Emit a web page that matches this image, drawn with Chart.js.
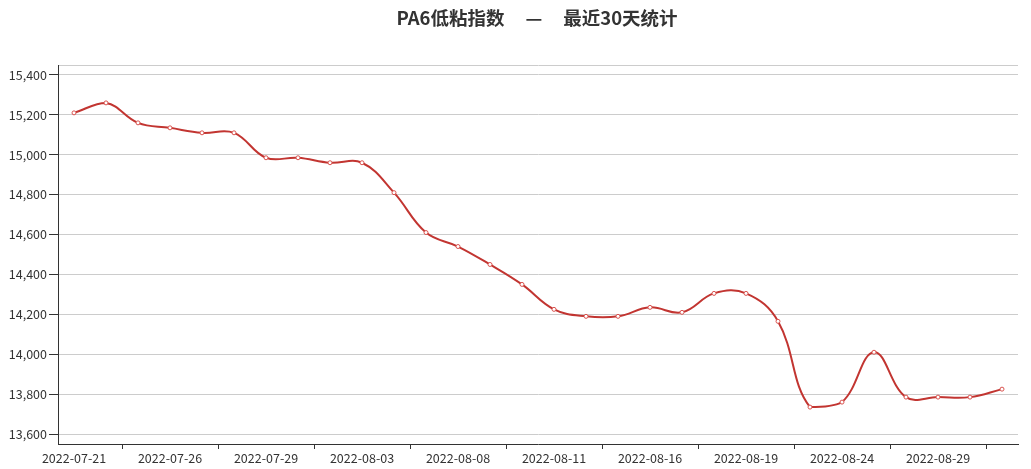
<!DOCTYPE html>
<html>
<head>
<meta charset="utf-8">
<title>PA6低粘指数</title>
<script src="https://cdn.jsdelivr.net/npm/chart.js@4.4.0/dist/chart.umd.min.js"></script>
<style>
    html, body { margin: 0; padding: 0; background: #fff; }
    canvas { display: block; }
</style>
</head>
<body>
<canvas id="chart" width="1031" height="469"></canvas>
<script>
// data
const titleText = 'PA6低粘指数     —     最近30天统计';
const dates = [
    '2022-07-21', '2022-07-22', '2022-07-25', '2022-07-26', '2022-07-27',
    '2022-07-28', '2022-07-29', '2022-08-01', '2022-08-02', '2022-08-03',
    '2022-08-04', '2022-08-05', '2022-08-08', '2022-08-09', '2022-08-10',
    '2022-08-11', '2022-08-12', '2022-08-15', '2022-08-16', '2022-08-17',
    '2022-08-18', '2022-08-19', '2022-08-22', '2022-08-23', '2022-08-24',
    '2022-08-25', '2022-08-26', '2022-08-29', '2022-08-30', '2022-08-31'
];
const indexValues = [
    15210, 15260, 15160, 15135, 15110,
    15110, 14985, 14985, 14960, 14960,
    14810, 14610, 14540, 14450, 14350,
    14225, 14190, 14190, 14235, 14210,
    14305, 14305, 14165, 13735, 13760,
    14010, 13785, 13785, 13785, 13825
];
const yTicks = [13600, 13800, 14000, 14200, 14400, 14600, 14800, 15000, 15200, 15400];
const yMin = 13550;
const yMax = 15450;

const fontFamily = '"Noto Sans CJK SC", "Noto Sans", sans-serif';
const lineColor = '#c23531';
const axisColor = '#333';

// title is drawn by hand so it can sit where the original does
const titlePlugin = {
    id: 'customTitle',
    afterDraw(chart) {
        const ctx = chart.ctx;
        ctx.save();
        ctx.font = 'bold 18.5px ' + fontFamily;
        ctx.fillStyle = '#333';
        ctx.textAlign = 'center';
        ctx.textBaseline = 'middle';
        ctx.fillText(titleText, 537, 18);
        ctx.restore();
    }
};

// keep the bezier handles inside the data's own range (no dip below the lowest point)
const clampCurvePlugin = {
    id: 'clampCurve',
    beforeDatasetDraw(chart, args) {
        const meta = args.meta;
        if (!meta.dataset) return;
        meta.dataset.updateControlPoints(chart.chartArea, 'x');
        const pts = meta.data;
        let top = Infinity, bottom = -Infinity;
        pts.forEach(function(p) {
            top = Math.min(top, p.y);
            bottom = Math.max(bottom, p.y);
        });
        pts.forEach(function(p) {
            if (p.cp1y !== undefined) p.cp1y = Math.min(bottom, Math.max(top, p.cp1y));
            if (p.cp2y !== undefined) p.cp2y = Math.min(bottom, Math.max(top, p.cp2y));
        });
    }
};

new Chart(document.getElementById('chart').getContext('2d'), {
    type: 'line',
    data: {
        labels: dates,
        datasets: [{
            label: 'PA6低粘指数',
            data: indexValues,
            borderColor: lineColor,
            borderWidth: 2,
            tension: 0.4,
            pointRadius: 2,
            pointBorderWidth: 1,
            pointBackgroundColor: '#fff',
            pointBorderColor: '#d9534f',
            fill: false
        }]
    },
    options: {
        responsive: false,
        animation: false,
        layout: {
            padding: { top: 65, right: 13, left: 0, bottom: 0 }
        },
        plugins: {
            legend: { display: false },
            title: { display: false },
            tooltip: { enabled: false }
        },
        scales: {
            x: {
                offset: true,
                afterFit(scale) { scale.height = 25; },
                border: { color: axisColor, width: 1 },
                grid: {
                    offset: true,
                    drawOnChartArea: false,
                    tickLength: 5,
                    tickColor: function(c) {
                        return c.index % 3 === 2 ? axisColor : 'rgba(0,0,0,0)';
                    }
                },
                ticks: {
                    autoSkip: false,
                    maxRotation: 0,
                    padding: 2,
                    color: '#333',
                    font: { family: fontFamily, size: 12.5 },
                    callback: function(value, index) {
                        return index % 3 === 0 ? dates[index] : '';
                    }
                }
            },
            y: {
                min: yMin,
                max: yMax,
                afterFit(scale) { scale.width = 58; },
                afterBuildTicks(scale) {
                    scale.ticks = yTicks.map(v => ({ value: v })).concat([{ value: yMax }]);
                },
                border: { color: axisColor, width: 1 },
                grid: {
                    color: '#ccc',
                    lineWidth: 1,
                    tickLength: 9,
                    tickColor: function(c) {
                        return c.tick && c.tick.value === yMax ? 'rgba(0,0,0,0)' : axisColor;
                    }
                },
                ticks: {
                    padding: 2,
                    color: '#333',
                    font: { family: fontFamily, size: 12.5 },
                    callback: function(value) {
                        return value === yMax ? '' : value.toLocaleString('en-US');
                    }
                }
            }
        }
    },
    plugins: [clampCurvePlugin, titlePlugin]
});
</script>
</body>
</html>
